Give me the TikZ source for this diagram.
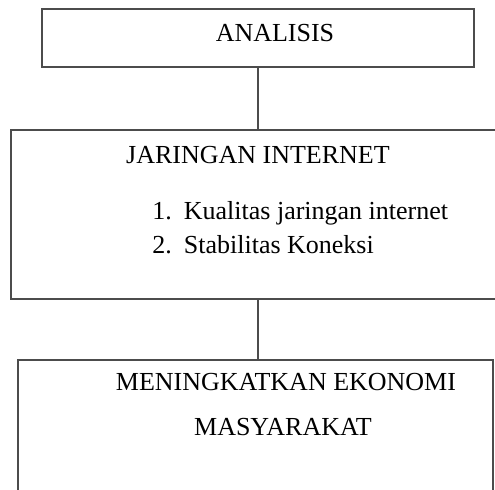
\documentclass[tikz,border=0pt]{standalone}
\usepackage{fontspec}
\setmainfont{Liberation Serif}
\usetikzlibrary{
    positioning,
}
\tikzset{
    block/.style = {
        rectangle,
        draw=black!70,
        line width=1pt,
        inner sep=0pt,
        outer sep=0pt,
    },
    caption/.style = {
        inner sep=0pt,
        font=\fontsize{13}{17}\selectfont,
    },
}
\tikzstyle{connector} = [
    draw=black!70,
    line width=1pt,
]

\begin{document}
\begin{tikzpicture}[x=0.5pt, y=-0.5pt]
        \useasboundingbox (0,0) rectangle (495,490);
        \clip (0,0) rectangle (495,490);

        \node [block, minimum width=216pt, minimum height=29pt] (analisis) at (258,38)
        {};

        \node [block, below = 31.5pt of analisis, minimum width=247pt, minimum height=84.5pt] (jaringan)
        {};

        \node [block, below = 30.5pt of jaringan, xshift=-1.25pt, minimum width=237.5pt, minimum height=80pt] (ekonomi)
        {};

        \node [caption] (analisisText) at (275,33)
        {ANALISIS};

        \node [caption] (jaringanText) at (258,155)
        {JARINGAN INTERNET};

        \node [caption, anchor=base west] (jaringanList) at (152,220)
        {\begin{tabular}[t]{@{}l@{\hspace{6pt}}l@{}}
        1. & Kualitas jaringan internet\\
        2. & Stabilitas Koneksi
        \end{tabular}};

        \node [caption] (ekonomiText) at (286,382)
        {MENINGKATKAN EKONOMI};

        \node [caption] (masyarakatText) at (283,427)
        {MASYARAKAT};

        \draw [connector] (analisis) -- (jaringan);
        \draw [connector] (jaringan) -- (jaringan.south |- ekonomi.north);

    \end{tikzpicture}
\end{document}
